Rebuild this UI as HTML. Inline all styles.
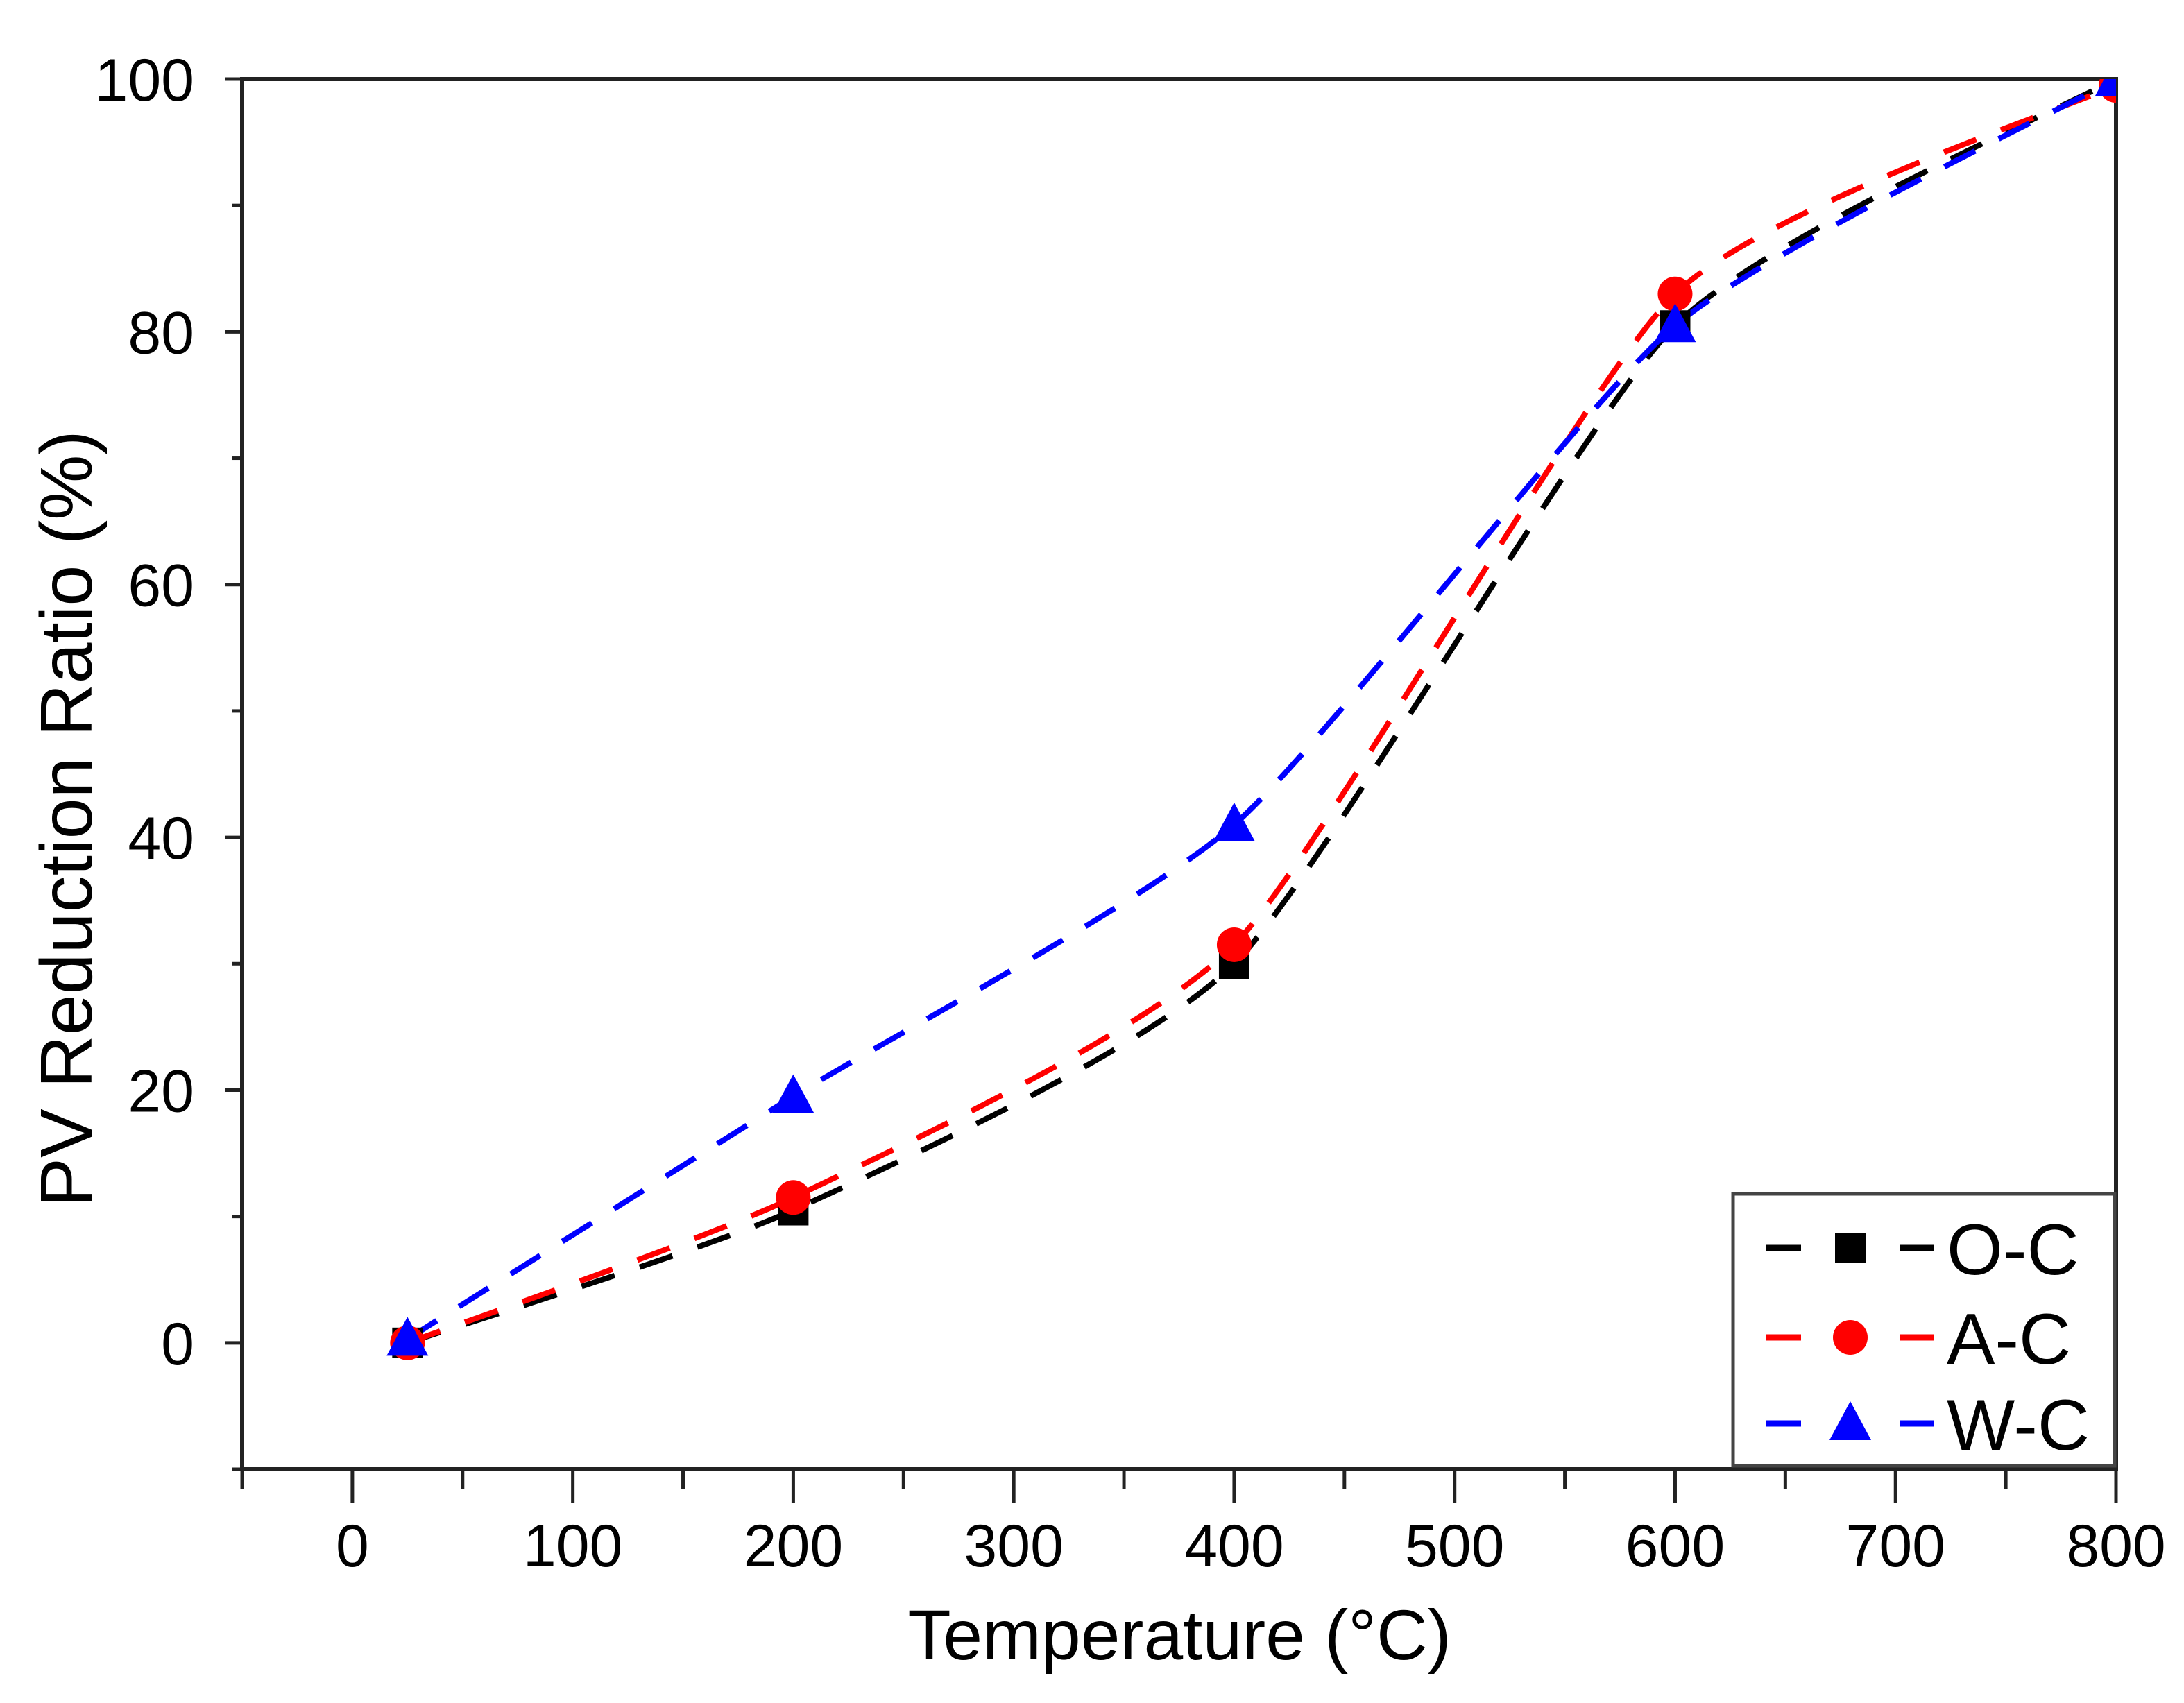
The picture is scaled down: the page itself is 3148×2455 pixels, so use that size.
<!DOCTYPE html>
<html><head><meta charset="utf-8"><style>
html,body{margin:0;padding:0;background:#fff;}
svg{display:block;font-family:"Liberation Sans",Arial,sans-serif;}
</style></head><body>
<svg id="chart" width="3148" height="2455" viewBox="0 0 3148 2455" xmlns="http://www.w3.org/2000/svg">
<defs><clipPath id="plotclip"><rect x="349" y="114" width="2701" height="2004"/></clipPath></defs>
<g id="grid-layer"></g>
<g id="series-layer" clip-path="url(#plotclip)"></g>
<g id="legend"></g>
<text x="1700" y="2392" font-size="102" text-anchor="middle">Temperature (°C)</text>
<text transform="translate(132,1180) rotate(-90)" font-size="106" text-anchor="middle">PV Reduction Ratio (%)</text>
</svg>
<script>
const temps = [25, 200, 400, 600, 800];
const seriesNames = ["O-C", "A-C", "W-C"];
const ocValues = [0, 10.5, 30, 80.5, 100];
const acValues = [0, 11.5, 31.5, 83, 99.5];
const wcValues = [0.3, 19.5, 41, 80.5, 100];
const xTickLabels = [0, 100, 200, 300, 400, 500, 600, 700, 800];
const yTickLabels = [0, 20, 40, 60, 80, 100];

const NS = "http://www.w3.org/2000/svg";
const L = 349, R = 3050, T = 114, B = 2118;
const xMin = -50, xMax = 800, yMin = -10, yMax = 100;
function xs(v){ return L + (v - xMin) / (xMax - xMin) * (R - L); }
function ys(v){ return B - (v - yMin) / (yMax - yMin) * (B - T); }
function mk(tag, attrs, parent){
  const e = document.createElementNS(NS, tag);
  for (const k in attrs) e.setAttribute(k, attrs[k]);
  parent.appendChild(e); return e;
}
const axes = document.getElementById("grid-layer");
const frame = mk("rect", {x:L, y:T, width:R-L, height:B-T, fill:"none", stroke:"#222", "stroke-width":6}, axes);


for (let v = -50; v <= 800; v += 50) {
  const major = v % 100 === 0;
  const t = mk("line", {x1:xs(v), x2:xs(v), y1:B, y2:B + (major ? 48 : 28), stroke:"#222", "stroke-width":5}, axes);
  
  
}
xTickLabels.forEach(v => {
  const t = mk("text", {x:xs(v), y:2258, "font-size":86, "text-anchor":"middle"}, axes);
  t.textContent = v;
  
  
});
for (let v = -10; v <= 100; v += 10) {
  const major = v % 20 === 0;
  const t = mk("line", {x1:L, x2:L - (major ? 24 : 14), y1:ys(v), y2:ys(v), stroke:"#222", "stroke-width":5}, axes);
  
  
}
yTickLabels.forEach(v => {
  const t = mk("text", {x:280, y:ys(v) + 31, "font-size":86, "text-anchor":"end"}, axes);
  t.textContent = v;
  
  
});

function splinePath(pts){
  let d = "M" + pts[0][0] + "," + pts[0][1];
  const k = 10;
  for (let i = 0; i < pts.length - 1; i++) {
    const p0 = pts[Math.max(i-1,0)], p1 = pts[i], p2 = pts[i+1], p3 = pts[Math.min(i+2, pts.length-1)];
    const c1 = [p1[0] + (p2[0]-p0[0])/k, p1[1] + (p2[1]-p0[1])/k];
    const c2 = [p2[0] - (p3[0]-p1[0])/k, p2[1] - (p3[1]-p1[1])/k];
    d += " C" + c1.join(",") + " " + c2.join(",") + " " + p2.join(",");
  }
  return d;
}
const colors = ["#000", "#f00", "#00f"];
const allVals = [ocValues, acValues, wcValues];
const layer = document.getElementById("series-layer");
function marker(type, cx, cy, color, parent){
  let m;
  if (type === 0) m = mk("rect", {x:cx-22, y:cy-22, width:44, height:44, fill:color}, parent);
  else if (type === 1) m = mk("circle", {cx:cx, cy:cy, r:25, fill:color}, parent);
  else m = mk("polygon", {points:(cx)+","+(cy-32)+" "+(cx-30)+","+(cy+24)+" "+(cx+30)+","+(cy+24), fill:color}, parent);
  return m;
}
allVals.forEach((vals, s) => {
  const pts = temps.map((t, i) => [xs(t), ys(vals[i])]);
  const p = mk("path", {d:splinePath(pts), fill:"none", stroke:colors[s], "stroke-width":8, "stroke-dasharray":"50 38"}, layer);
  
  
});
allVals.forEach((vals, s) => {
  temps.forEach((t, i) => {
    const m = marker(s, xs(t), ys(vals[i]), colors[s], layer);
    
    
  });
});
const lg = document.getElementById("legend");
const box = mk("rect", {x:2498, y:1721, width:550, height:392, fill:"#fff", stroke:"#444", "stroke-width":5}, lg);


const rowY = [1799, 1928, 2052];
seriesNames.forEach((name, s) => {
  const g = mk("g", {}, lg);
  
  
  mk("line", {x1:2546, x2:2596, y1:rowY[s], y2:rowY[s], stroke:colors[s], "stroke-width":9}, g);
  mk("line", {x1:2738, x2:2788, y1:rowY[s], y2:rowY[s], stroke:colors[s], "stroke-width":9}, g);
  marker(s, 2667, rowY[s], colors[s], g);
  const t = mk("text", {x:2806, y:rowY[s] + 38, "font-size":104}, g);
  t.textContent = name;
});
</script>
</body></html>
